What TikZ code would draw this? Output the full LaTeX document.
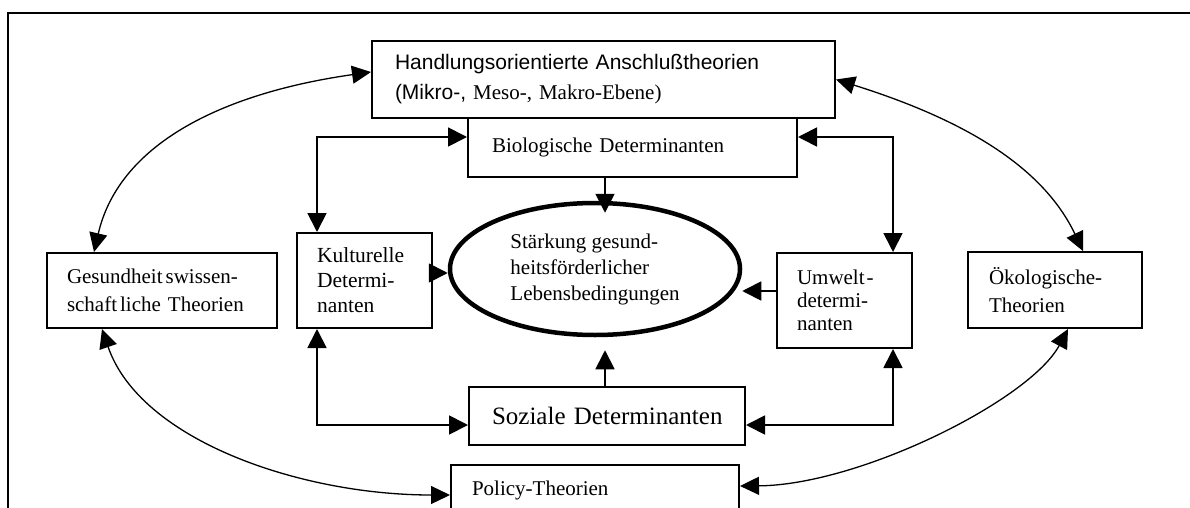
\documentclass[tikz,border=0pt]{standalone}
\usepackage{fontspec}
\setmainfont{Liberation Serif}
\newfontfamily\arialfont{Liberation Sans}
\usetikzlibrary{arrows.meta,shapes.geometric,calc}

\begin{document}
\begin{tikzpicture}[x=1pt,y=-1pt,
  box/.style={draw, line width=2pt, align=left, inner ysep=0pt,
              font=\fontsize{21pt}{28pt}\selectfont},
  conn/.style={line width=1.8pt, >={Triangle[length=19pt,width=19pt]}},
  arcline/.style={line width=1.3pt, >={Triangle[length=19pt,width=18pt]}}]

\useasboundingbox (0,0) rectangle (1190,508);

% outer frame (open to the right and bottom)
\draw[line width=1.6pt] (8,508) -- (8,13) -- (1190,13);

% boxes
\node[box, text width=417pt, inner xsep=23pt, minimum height=77pt,
      font=\fontsize{21pt}{30pt}\selectfont] (hand) at (603.5,79.5)
  {{\arialfont Handlungsorientierte Anschlußtheorien}\\{\arialfont (Mikro-,} Meso-, Makro-Ebene)};
\node[box, text width=281pt, inner xsep=24pt, minimum height=59pt] (bio) at (632.5,147.5)
  {Biologische Determinanten};
\node[box, text width=95pt, inner xsep=20pt, minimum height=95pt,
      font=\fontsize{21.5pt}{25pt}\selectfont] (kult) at (364.5,280.5)
  {Kulturelle\\Determi-\\nanten};
\node[box, text width=190pt, inner xsep=20pt, minimum height=75pt] (ges) at (162,290.5)
  {Gesundheit\kern3pt swissen-\\schaft\kern3pt liche Theorien};
\node[box, text width=95pt, inner xsep=20pt, minimum height=95pt,
      font=\fontsize{21pt}{23pt}\selectfont] (umw) at (844.5,300.5)
  {Umwelt\kern2pt -\\determi-\\nanten};
\node[box, text width=132pt, inner xsep=21pt, minimum height=76pt] (oek) at (1055,290)
  {Ökologische-\\Theorien};
\node[box, text width=230pt, inner xsep=23pt, minimum height=58pt,
      font=\fontsize{25pt}{30pt}\selectfont] (soz) at (607,416)
  {\mbox{Soziale Determinanten}};
\node[box, text width=246pt, inner xsep=21pt, minimum height=50pt] (pol) at (595,490)
  {Policy-Theorien};

% central goal
\node[ellipse, draw, line width=4.5pt, minimum width=290pt, minimum height=132pt,
      inner sep=0pt, align=left, font=\fontsize{21pt}{26pt}\selectfont] (ell) at (595,269)
  {Stärkung gesund-\\heitsförderlicher\\Lebensbedingungen};

% determinants feeding the goal
\draw[conn,->] ([xshift=-27.5pt]bio.south) -- ([xshift=10pt,yshift=-12pt]ell.north);
\draw[conn,->] ([xshift=-2pt]soz.north) -- ([xshift=10pt,yshift=-13pt]ell.south);
\draw[conn,->] ([yshift=7.5pt]kult.east) -- ([yshift=7.5pt]kult.east -| ell.west);
\draw[conn,->] ([yshift=9.5pt]umw.west) -- ([yshift=9.5pt]umw.west -| ell.east);

% links between the determinants
\draw[conn,<->] ([yshift=10.5pt]bio.west) -| ([xshift=-47.5pt]kult.north);
\draw[conn,<->] ([yshift=10.5pt]bio.east) -| ([xshift=48.5pt]umw.north);
\draw[conn,<->] ([xshift=-47.5pt]kult.south) |- ([yshift=-9pt]soz.west);
\draw[conn,<->] ([xshift=48.5pt]umw.south) |- ([yshift=-9pt]soz.east);

% outer ring of theories
\draw[arcline,<->] ([xshift=-68pt]ges.north) .. controls (120,140) and (230,92) .. ([yshift=7.5pt]hand.west);
\draw[arcline,<->] (hand.east) .. controls (965,120) and (1043,167) .. ([xshift=28pt]oek.north);
\draw[arcline,<->] ([xshift=-60pt]ges.south) .. controls (140,440) and (300,495) .. ([yshift=-5pt]pol.west);
\draw[arcline,<->] ([xshift=13pt]oek.south) .. controls (1030,400) and (860,485) .. ([yshift=4pt]pol.east);

\end{tikzpicture}
\end{document}
